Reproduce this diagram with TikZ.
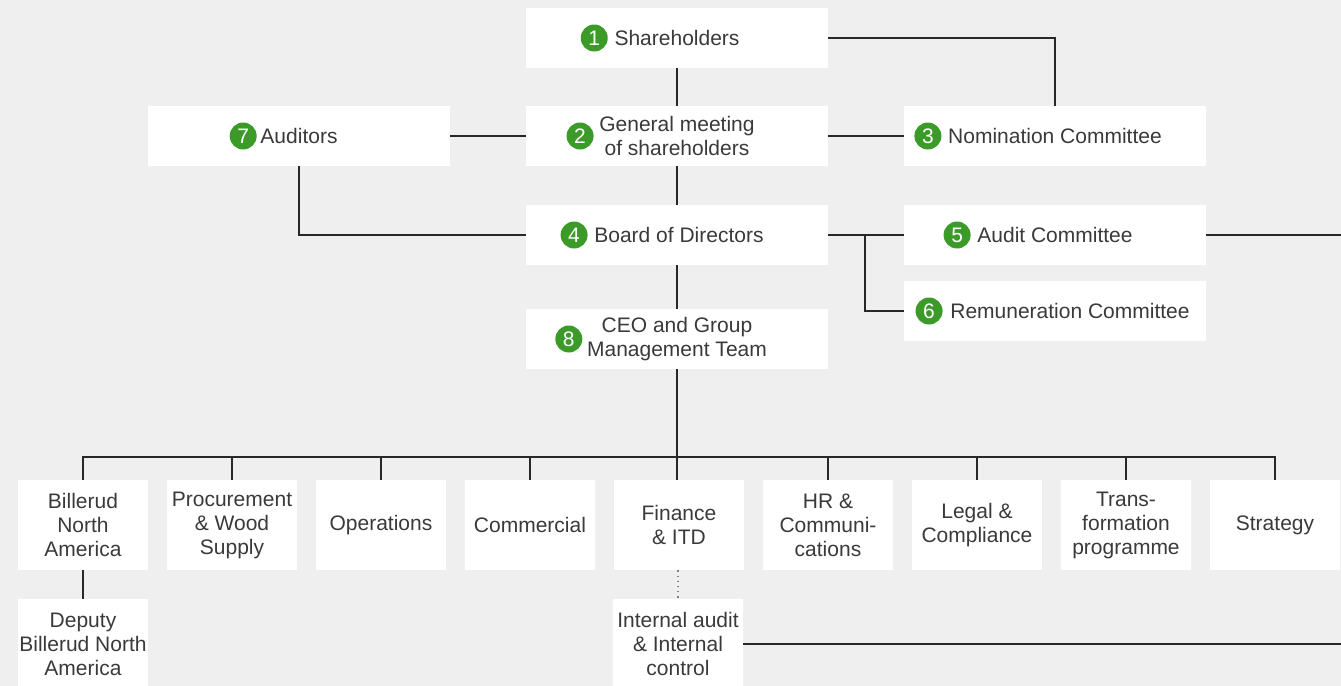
\documentclass[tikz,border=0pt]{standalone}
\usepackage{fontspec}
\setmainfont{Liberation Sans}
\usetikzlibrary{positioning}
\definecolor{bggray}{RGB}{239,239,239}
\definecolor{textgray}{RGB}{58,58,58}
\definecolor{numgreen}{RGB}{60,155,40}
\definecolor{linegray}{RGB}{40,40,40}

\tikzset{
    wide/.style={fill=white, minimum width=151pt, minimum height=30pt, inner sep=0pt},
    unit/.style={fill=white, minimum width=65pt, minimum height=45pt, inner sep=0pt,
        text=textgray, align=center, font=\fontsize{10.5}{12}\selectfont},
    txt/.style={inner sep=0pt, text=textgray, align=center, font=\fontsize{10.5}{12}\selectfont},
    num/.style={circle, fill=numgreen, text=white, minimum size=13.5pt, inner sep=0pt,
        font=\fontsize{10.5}{12}\selectfont},
    link/.style={draw=linegray, line width=0.6pt},
}

\begin{document}
\begin{tikzpicture}[x=0.5pt, y=-0.5pt]
    \fill[bggray] (0,0) rectangle (1341,686);
    \useasboundingbox (0,0) rectangle (1341,686);

    % governing bodies
    \node[wide] (share) at (677,38) {};
    \node[txt] (share-t) at (share) {Shareholders};
    \node[num, left=3pt of share-t] (n1) {1};

    \node[wide] (meet) at (677,136) {};
    \node[txt] (meet-t) at (meet) {General meeting\\of shareholders};
    \node[num, left=2.5pt of meet-t] (n2) {2};

    \node[wide] (nom) at (1055,136) {};
    \node[txt] (nom-t) at (nom) {Nomination Committee};
    \node[num, left=3pt of nom-t] (n3) {3};

    \node[wide] (board) at (677,235) {};
    \node[txt] (board-t) at (679,235) {Board of Directors};
    \node[num, left=3pt of board-t] (n4) {4};

    \node[wide] (audc) at (1055,235) {};
    \node[txt] (audc-t) at (audc) {Audit Committee};
    \node[num, left=3pt of audc-t] (n5) {5};

    \node[wide] (remc) at (1055,311) {};
    \node[txt] (remc-t) at (1070,311) {Remuneration Committee};
    \node[num, left=3.5pt of remc-t] (n6) {6};

    \node[wide] (audit) at (299,136) {};
    \node[txt] (audit-t) at (audit) {Auditors};
    \node[num, left=1.5pt of audit-t] (n7) {7};

    \node[wide] (ceo) at (677,339) {};
    \node[txt] (ceo-t) at (677,339) {CEO and Group\\Management Team};
    \node[num, left=2pt of ceo-t] (n8) {8};

    % functions
    \node[unit] (bna) at (83,525) {Billerud\\North\\America};
    \node[unit] (proc) at (232,525) {Procurement\\\& Wood\\Supply};
    \node[unit] (ops) at (381,525) {Operations};
    \node[unit] (comm) at (530,525) {Commercial};
    \node[unit] (fin) at (679,525) {Finance\\\& ITD};
    \node[unit] (hr) at (828,525) {HR \&\\Communi-\\cations};
    \node[unit] (legal) at (977,525) {Legal \&\\Compliance};
    \node[unit] (trans) at (1126,525) {Trans-\\formation\\programme};
    \node[unit] (strat) at (1275,525) {Strategy};

    \node[unit] (dep) at (83,644) {Deputy\\Billerud North\\America};
    \node[unit] (iac) at (678,644) {Internal audit\\\& Internal\\control};

    \coordinate (bus) at (677,457);
    \coordinate (edge1) at (1345,235);
    \coordinate (edge2) at (1345,644);

    % connectors
    \draw[link] (share) -- (meet);
    \draw[link] (meet) -- (board);
    \draw[link] (board) -- (ceo);
    \draw[link] (ceo.south) -- (ceo.south |- fin.north);
    \draw[link] (share.east) -| (nom.north);
    \draw[link] (audit) -- (meet);
    \draw[link] (meet) -- (nom);
    \draw[link] (audit.south) |- (board.west);
    \draw[link] (board.east) -- (audc.west);
    \draw[link] (865,235) |- (remc.west);
    \draw[link] (audc.east) -- (edge1);
    \draw[link] (iac.east) -- (edge2);
    \draw[link] (bna.north) |- (bus) -| (strat.north);
    \foreach \u in {proc, ops, comm, hr, legal, trans}
        \draw[link] (\u.north) -- (\u.north |- bus);
    \draw[link] (bna) -- (dep);
    \draw[gray, line width=0.6pt, dotted] (fin.south -| iac.north) -- (iac.north);
\end{tikzpicture}
\end{document}
